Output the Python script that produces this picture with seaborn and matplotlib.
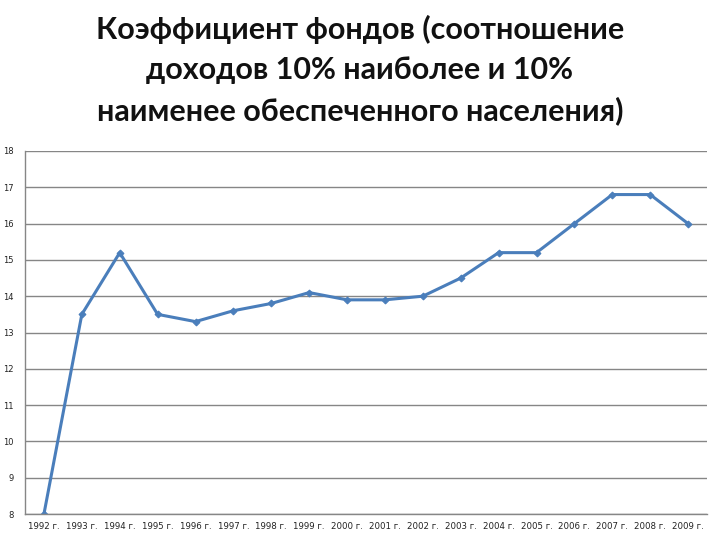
import matplotlib
matplotlib.use("Agg")
import matplotlib.pyplot as plt
import seaborn as sns
import pandas as pd
import numpy as np

years = ["1992 г.", "1993 г.", "1994 г.", "1995 г.", "1996 г.", "1997 г.", "1998 г.",
         "1999 г.", "2000 г.", "2001 г.", "2002 г.", "2003 г.", "2004 г.", "2005 г.",
         "2006 г.", "2007 г.", "2008 г.", "2009 г."]
values = [8.0, 13.5, 15.2, 13.5, 13.3, 13.6, 13.8, 14.1, 13.9, 13.9, 14.0, 14.5,
          15.2, 15.2, 16.0, 16.8, 16.8, 16.0]
yticks = list(range(8, 19))
title = "Коэффициент фондов (соотношение\nдоходов 10% наиболее и 10%\nнаименее обеспеченного населения)"

sns.set_style("white")
plt.rcParams['font.family'] = ['DejaVu Sans']

df = pd.DataFrame({"year": years, "value": values, "pos": np.arange(len(years))})

fig = plt.figure(figsize=(7.2, 5.4), dpi=100)
ax = fig.add_axes([25/720, 1 - 514/540, (707-25)/720, (514-151)/540])

sns.lineplot(data=df, x="pos", y="value", ax=ax, color="#4a7ebb", linewidth=2.2,
             marker="D", markersize=3.5, markeredgecolor="#4a7ebb")

ax.set_xlim(-0.5, len(years) - 0.5)
ax.set_ylim(8, 18)
ax.set_yticks(yticks)
ax.set_yticklabels([str(t) for t in yticks], fontsize=6, color="#222222")
ax.set_xticks(np.arange(len(years)))
ax.set_xticklabels(years, fontsize=6.2, color="#222222")
ax.set_xticks(np.arange(len(years) + 1) - 0.5, minor=True)
ax.tick_params(axis="x", which="major", length=0, pad=6)
ax.tick_params(axis="x", which="minor", length=4, color="#868686", direction="out")
ax.tick_params(axis="y", length=4, color="#868686", direction="out", pad=4)
ax.yaxis.grid(True, color="#868686", linewidth=1)
ax.xaxis.grid(False)
ax.set_xlabel("")
ax.set_ylabel("")
for s in ["top", "right"]:
    ax.spines[s].set_visible(False)
for s in ["left", "bottom"]:
    ax.spines[s].set_color("#868686")
    ax.spines[s].set_linewidth(1)
ax.set_axisbelow(True)

fig.text(0.5, 1 - 70/540, title, ha="center", va="center", fontsize=22,
         fontweight="bold", family=["Lato", "DejaVu Sans"], linespacing=1.5, color="#111111")

fig.savefig("out.png", dpi=100)
